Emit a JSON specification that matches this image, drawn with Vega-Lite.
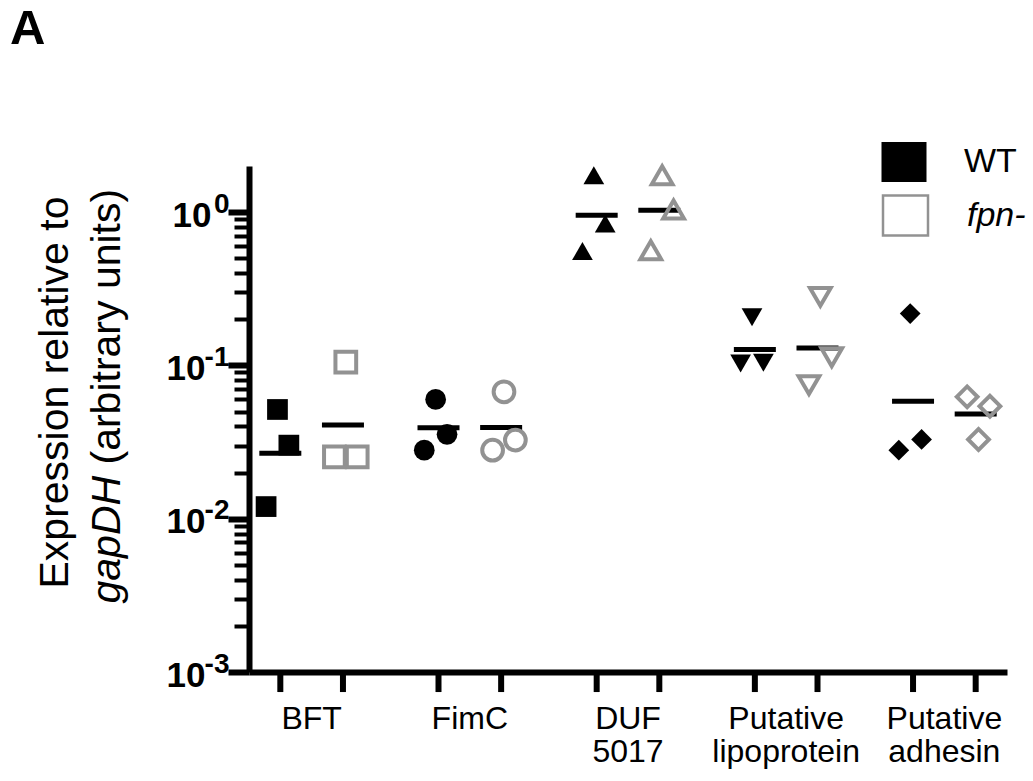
{
  "$schema": "https://vega.github.io/schema/vega-lite/v6.json",
  "width": 758,
  "height": 506,
  "autosize": {"type": "none"},
  "padding": {"left": 249, "top": 166, "right": 26, "bottom": 109},
  "background": "white",
  "config": {"view": {"stroke": null}, "font": "Liberation Sans"},
  "title": {"text": "A", "anchor": "start", "frame": "group", "dx": -239, "offset": 49, "fontSize": 49, "fontWeight": "bold", "font": "Liberation Sans", "color": "black", "baseline": "alphabetic"},
  "datasets": {
    "points": [
      {"gene": "BFT", "strain": "WT", "sample": "WT b", "value": 0.0516},
      {"gene": "BFT", "strain": "WT", "sample": "WT c", "value": 0.0302},
      {"gene": "BFT", "strain": "WT", "sample": "WT a", "value": 0.0120},
      {"gene": "BFT", "strain": "fpn-", "sample": "fpn- b", "value": 0.105},
      {"gene": "BFT", "strain": "fpn-", "sample": "fpn- a", "value": 0.0253},
      {"gene": "BFT", "strain": "fpn-", "sample": "fpn- c", "value": 0.0253},
      {"gene": "FimC", "strain": "WT", "sample": "WT b", "value": 0.060},
      {"gene": "FimC", "strain": "WT", "sample": "WT c", "value": 0.0355},
      {"gene": "FimC", "strain": "WT", "sample": "WT a", "value": 0.0280},
      {"gene": "FimC", "strain": "fpn-", "sample": "fpn- b", "value": 0.0673},
      {"gene": "FimC", "strain": "fpn-", "sample": "fpn- c", "value": 0.0326},
      {"gene": "FimC", "strain": "fpn-", "sample": "fpn- a", "value": 0.0280},
      {"gene": "DUF 5017", "strain": "WT", "sample": "WT b", "value": 1.74},
      {"gene": "DUF 5017", "strain": "WT", "sample": "WT c", "value": 0.844},
      {"gene": "DUF 5017", "strain": "WT", "sample": "WT a", "value": 0.557},
      {"gene": "DUF 5017", "strain": "fpn-", "sample": "fpn- b", "value": 1.74},
      {"gene": "DUF 5017", "strain": "fpn-", "sample": "fpn- c", "value": 1.04},
      {"gene": "DUF 5017", "strain": "fpn-", "sample": "fpn- a", "value": 0.565},
      {"gene": "Putative lipoprotein", "strain": "WT", "sample": "WT b", "value": 0.206},
      {"gene": "Putative lipoprotein", "strain": "WT", "sample": "WT a", "value": 0.103},
      {"gene": "Putative lipoprotein", "strain": "WT", "sample": "WT c", "value": 0.104},
      {"gene": "Putative lipoprotein", "strain": "fpn-", "sample": "fpn- b", "value": 0.280},
      {"gene": "Putative lipoprotein", "strain": "fpn-", "sample": "fpn- c", "value": 0.113},
      {"gene": "Putative lipoprotein", "strain": "fpn-", "sample": "fpn- a", "value": 0.0744},
      {"gene": "Putative adhesin", "strain": "WT", "sample": "WT b", "value": 0.218},
      {"gene": "Putative adhesin", "strain": "WT", "sample": "WT c", "value": 0.0329},
      {"gene": "Putative adhesin", "strain": "WT", "sample": "WT a", "value": 0.0280},
      {"gene": "Putative adhesin", "strain": "fpn-", "sample": "fpn- a", "value": 0.0624},
      {"gene": "Putative adhesin", "strain": "fpn-", "sample": "fpn- c", "value": 0.0542},
      {"gene": "Putative adhesin", "strain": "fpn-", "sample": "fpn- b", "value": 0.0329}
    ],
    "means": [
      {"gene": "BFT", "strain": "WT", "mean": 0.0267},
      {"gene": "BFT", "strain": "fpn-", "mean": 0.0408},
      {"gene": "FimC", "strain": "WT", "mean": 0.0392},
      {"gene": "FimC", "strain": "fpn-", "mean": 0.0394},
      {"gene": "DUF 5017", "strain": "WT", "mean": 0.953},
      {"gene": "DUF 5017", "strain": "fpn-", "mean": 1.03},
      {"gene": "Putative lipoprotein", "strain": "WT", "mean": 0.127},
      {"gene": "Putative lipoprotein", "strain": "fpn-", "mean": 0.130},
      {"gene": "Putative adhesin", "strain": "WT", "mean": 0.0583},
      {"gene": "Putative adhesin", "strain": "fpn-", "mean": 0.0483}
    ]
  },
  "resolve": {"scale": {"xOffset": "independent"}, "axis": {"y": "independent"}},
  "layer": [
    {
      "data": {"name": "means"},
      "mark": {"type": "rule", "strokeWidth": 6, "color": "black"},
      "encoding": {
        "x": {"field": "gene", "type": "nominal", "sort": null,
          "scale": {"type": "band", "domain": ["BFT", "FimC", "DUF 5017", "Putative lipoprotein", "Putative adhesin"], "paddingInner": 0.208, "paddingOuter": 0},
          "axis": {"title": null, "ticks": false, "tickSize": 0, "domainColor": "black", "domainWidth": 6, "labelAngle": 0, "labelFont": "Liberation Sans", "labelFontSize": 32, "labelColor": "black", "labelPadding": 31, "labelBaseline": "top", "labelLineHeight": 33.5, "labelExpr": "split(datum.label, ' ')", "labelOverlap": false}},
        "xOffset": {"field": "strain", "type": "nominal", "scale": {"domain": ["WT", "fpn-"], "paddingInner": 0, "paddingOuter": 0}},
        "y": {"datum": 0.001, "type": "quantitative", "scale": {"type": "log", "domain": [0.001, 2], "nice": false}, "axis": null},
        "y2": {"datum": 0.00074}
      }
    },
    {
      "data": {"name": "means"},
      "mark": {"type": "tick", "orient": "horizontal", "size": 42, "thickness": 5, "color": "black", "opacity": 1},
      "encoding": {
        "x": {"field": "gene", "type": "nominal", "sort": null},
        "xOffset": {"field": "strain", "type": "nominal", "scale": {"domain": ["WT", "fpn-"], "paddingInner": 0, "paddingOuter": 0}},
        "y": {"field": "mean", "type": "quantitative",
          "axis": {"orient": "left", "domain": false, "ticks": false, "tickSize": 0, "grid": false,
            "values": [1], "labelExpr": "'10'",
            "labelFont": "Liberation Sans", "labelFontSize": 35, "labelFontWeight": "bold", "labelColor": "black", "labelPadding": 38, "labelOffset": 3, "labelOverlap": false, "labelFlush": false,
            "title": "(arbitrary units)", "titleFont": "Liberation Sans", "titleFontSize": 41, "titleFontWeight": "normal", "titleColor": "black", "titleX": -130, "titleY": 298, "titleAngle": 270, "titleAlign": "left", "titleBaseline": "alphabetic"}}
      }
    },
    {
      "data": {"name": "points"},
      "transform": [{"filter": "datum.strain === 'WT'"}],
      "mark": {"type": "point", "filled": true, "size": 430, "strokeWidth": 0, "opacity": 1},
      "encoding": {
        "x": {"field": "gene", "type": "nominal", "sort": null},
        "xOffset": {"field": "sample", "type": "nominal", "scale": {"domain": ["edge 1", "WT a", "WT b", "WT c", "gap 1", "gap 2", "gap 3", "fpn- a", "fpn- b", "fpn- c", "edge 2"], "paddingInner": 0, "paddingOuter": 0.5}},
        "y": {"field": "value", "type": "quantitative",
          "axis": {"orient": "left", "values": [0.001, 0.002, 0.003, 0.004, 0.005, 0.006, 0.007, 0.008, 0.009, 0.01, 0.02, 0.03, 0.04, 0.05, 0.06, 0.07, 0.08, 0.09, 0.1, 0.2, 0.3, 0.4, 0.5, 0.6, 0.7, 0.8, 0.9, 1],
            "labelExpr": "datum.value < 0.5 && abs(log(datum.value)/LN10 - round(log(datum.value)/LN10)) < 1e-6 ? '10' : ''",
            "labelFont": "Liberation Sans", "labelFontSize": 35, "labelFontWeight": "bold", "labelColor": "black", "labelOverlap": false, "labelFlush": false,
            "labelPadding": 23, "labelOffset": 3,
            "tickColor": "black",
            "tickSize": {"condition": {"test": "abs(log(datum.value)/LN10 - round(log(datum.value)/LN10)) < 1e-6", "value": 21}, "value": 15},
            "tickWidth": {"condition": {"test": "abs(log(datum.value)/LN10 - round(log(datum.value)/LN10)) < 1e-6", "value": 6}, "value": 4},
            "domainColor": "black", "domainWidth": 6, "grid": false,
            "title": "Expression relative to", "titleFont": "Liberation Sans", "titleFontSize": 41, "titleFontWeight": "normal", "titleColor": "black", "titleX": -182, "titleY": 422, "titleAngle": 270, "titleAlign": "left", "titleBaseline": "alphabetic"}},
        "shape": {"field": "gene", "type": "nominal", "scale": {"domain": ["BFT", "FimC", "DUF 5017", "Putative lipoprotein", "Putative adhesin"], "range": ["square", "circle", "triangle-up", "triangle-down", "diamond"]}, "legend": null},
        "fill": {"field": "strain", "type": "nominal", "scale": {"domain": ["WT"], "range": ["black"]},
          "legend": {"orient": "none", "legendX": 635, "legendY": -24, "title": null, "padding": 0,
            "symbolType": "M-1.125,-1L1.125,-1L1.125,1L-1.125,1Z", "symbolSize": 1600, "symbolStrokeWidth": 0,
            "labelFont": "Liberation Sans", "labelFontSize": 34, "labelColor": "black", "labelOffset": 40}}
      }
    },
    {
      "data": {"name": "points"},
      "transform": [{"filter": "datum.strain === 'fpn-'"}],
      "mark": {"type": "point", "filled": false, "size": 430, "strokeWidth": 4, "opacity": 1},
      "encoding": {
        "x": {"field": "gene", "type": "nominal", "sort": null},
        "xOffset": {"field": "sample", "type": "nominal", "scale": {"domain": ["edge 1", "WT a", "WT b", "WT c", "gap 1", "gap 2", "gap 3", "fpn- a", "fpn- b", "fpn- c", "edge 2"], "paddingInner": 0, "paddingOuter": 0.5}},
        "y": {"field": "value", "type": "quantitative",
          "axis": {"orient": "left", "domain": false, "ticks": false, "tickSize": 0, "grid": false,
            "values": [0.001, 0.01, 0.1, 1],
            "labelExpr": "abs(datum.value-1)<1e-9 ? '0' : abs(datum.value-0.1)<1e-9 ? '-1' : abs(datum.value-0.01)<1e-10 ? '-2' : '-3'",
            "labelFont": "Liberation Sans", "labelFontSize": 28, "labelFontWeight": "bold", "labelColor": "black", "labelPadding": 20, "labelOffset": -8, "labelOverlap": false, "labelFlush": false,
            "title": "gapDH", "titleFont": "Liberation Sans", "titleFontSize": 41, "titleFontWeight": "normal", "titleFontStyle": "italic", "titleColor": "black", "titleX": -130, "titleY": 437, "titleAngle": 270, "titleAlign": "left", "titleBaseline": "alphabetic"}},
        "shape": {"field": "gene", "type": "nominal", "legend": null},
        "stroke": {"field": "strain", "type": "nominal", "scale": {"domain": ["fpn-"], "range": ["#929292"]},
          "legend": {"orient": "none", "legendX": 635, "legendY": 28, "title": null, "padding": 0,
            "symbolType": "M-1.125,-1L1.125,-1L1.125,1L-1.125,1Z", "symbolSize": 1600, "symbolStrokeWidth": 2.5, "symbolStrokeColor": "#a8a8a8", "symbolFillColor": "white",
            "labelFont": "Liberation Sans", "labelFontSize": 34, "labelFontStyle": "italic", "labelColor": "black", "labelOffset": 40}}
      }
    }
  ]
}
